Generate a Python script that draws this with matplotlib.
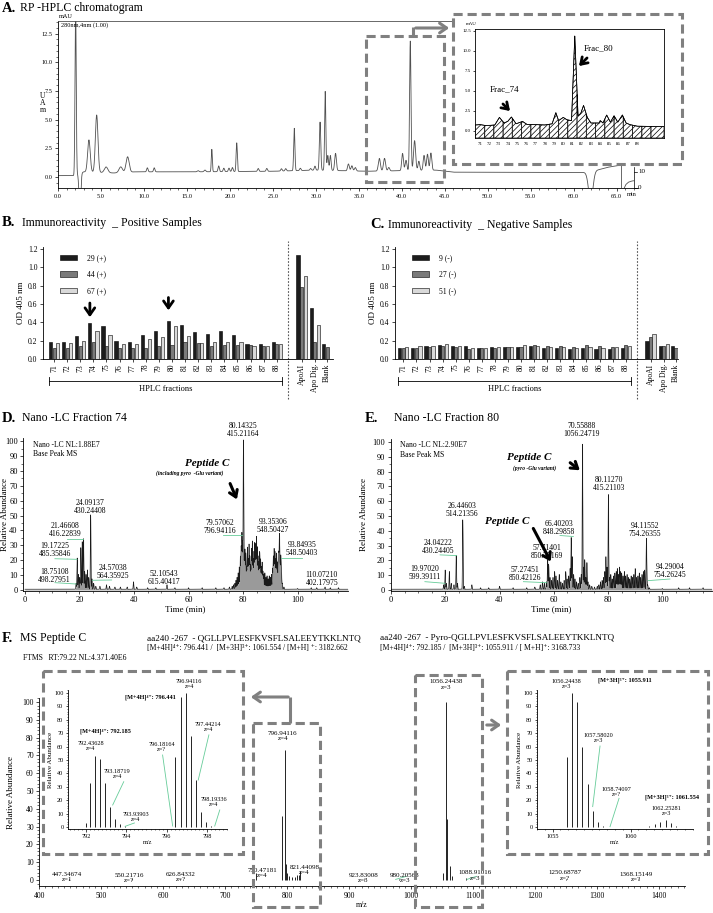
import numpy as np
import matplotlib
matplotlib.use("Agg")
import matplotlib.pyplot as plt
from matplotlib.patches import Rectangle
from matplotlib.ticker import MultipleLocator, FormatStrFormatter
import matplotlib.transforms as mtrans

plt.rcParams['font.family'] = ['Liberation Serif', 'DejaVu Serif']
plt.rcParams['hatch.linewidth'] = 0.5
plt.rcParams['axes.linewidth'] = 0.6
for a in ('xtick', 'ytick'):
    plt.rcParams[a + '.major.width'] = 0.5
    plt.rcParams[a + '.minor.width'] = 0.4
    plt.rcParams[a + '.major.size'] = 2.5
    plt.rcParams[a + '.minor.size'] = 1.2
    plt.rcParams[a + '.major.pad'] = 1.5

W, H = 713, 913
GREY = '#808080'
GREEN = '#66cc99'

# ---------------- data ----------------
# A. RP-HPLC chromatogram (min, mAU): baseline knots + peaks (centre, height, width)
hplc_base_t = [0, 1.9, 3.0, 6.5, 9.0, 16.0, 25.0, 30.0, 36.0, 44.0, 46.0, 61.5, 63.0, 64.0, 65.2]
hplc_base_y = [0.12, 0.12, 0.45, 0.35, 0.45, 0.45, 0.5, 0.6, 0.5, 0.6, 0.42, 0.4, 0.65, 0.85, 1.0]
hplc_peak_t = [2.05, 2.55, 3.6, 4.5, 5.6, 7.3, 8.1, 10.4, 11.2, 16.3,
               17.1, 17.9, 18.7, 19.3, 19.9, 20.3, 20.8,
               23.3, 24.3, 26.0, 26.5, 27.5, 28.2, 29.4, 29.9, 30.5, 31.1, 31.4, 31.7, 32.3, 33.8, 34.2, 34.6,
               37.4, 38.0, 38.5, 40.1, 40.5, 41.0, 41.5, 42.0, 42.6, 43.0, 43.4, 62.0]
hplc_peak_h = [15, -3.5, 2.8, 5.0, 0.5, 0.5, 1.35, 0.35, 0.35, 0.1,
               0.15, 1.95, 0.5, 0.3, 0.3, 0.35, 2.5,
               0.25, 0.25, 0.2, 0.2, 3.7, 0.2, 0.15, 0.35, 4.2, 6.9, 1.3, 1.3, 1.5, 0.6, 0.45, 0.3,
               1.1, 1.1, 0.3, 1.5, 0.9, 11.3, 2.6, 0.8, 1.3, 1.4, 1.5, -2.6]
hplc_peak_w = [0.07, 0.1, 0.15, 0.15, 0.2, 0.2, 0.18, 0.08, 0.08, 0.1,
               0.1, 0.06, 0.08, 0.08, 0.08, 0.08, 0.07,
               0.08, 0.08, 0.08, 0.08, 0.07, 0.08, 0.08, 0.08, 0.08, 0.07, 0.08, 0.08, 0.1, 0.1, 0.1, 0.1,
               0.12, 0.12, 0.1, 0.1, 0.1, 0.08, 0.12, 0.1, 0.1, 0.1, 0.1, 0.25]
hplc_marker_t = 65.5
hplc_grad_t = [65.9, 66.1, 66.4, 66.8, 67.0]
hplc_grad_y = [-0.96, -0.65, -0.45, -0.35, -0.33]

# A inset: fractions 71-88
frac_ticks = list(range(71, 89))
frac_x = [70.5, 71.0, 71.5, 72.0, 72.6, 73.1, 73.6, 74.0, 74.4, 74.9, 75.6, 76.1, 77.0, 78.0, 78.8,
          79.2, 79.5, 80.0, 80.4, 80.9, 81.25, 81.6, 81.9, 82.2, 82.6, 83.0, 83.9, 84.0, 84.3, 84.7,
          85.1, 85.5, 85.9, 86.4, 86.8, 87.2, 88.0, 90.9]
frac_y = [0.75, 0.8, 0.7, 0.7, 0.75, 1.7, 1.0, 1.2, 1.75, 0.9, 1.2, 0.8, 0.8, 0.75, 0.9,
          2.3, 1.3, 1.7, 1.4, 1.3, 11.9, 1.9, 2.2, 3.2, 1.7, 1.0, 1.0, 1.3, 1.0, 2.0,
          1.1, 1.9, 1.1, 2.0, 1.0, 0.8, 0.6, 0.55]

# B / C. Immunoreactivity (OD 405 nm)
fractions = [str(i) for i in range(71, 89)]
controls = ['ApoAI', 'Apo Dig.', 'Blank']
pos_names = ['29 (+)', '44 (+)', '67 (+)']
pos_29 = [0.18, 0.18, 0.25, 0.39, 0.36, 0.20, 0.19, 0.26, 0.30, 0.41, 0.375, 0.295, 0.27, 0.30, 0.265, 0.165, 0.165, 0.185,
          1.13, 0.56, 0.16]
pos_44 = [0.12, 0.12, 0.14, 0.18, 0.145, 0.12, 0.12, 0.12, 0.14, 0.155, 0.18, 0.17, 0.145, 0.15, 0.155, 0.155, 0.14, 0.16,
          0.78, 0.19, 0.13]
pos_67 = [0.17, 0.17, 0.20, 0.31, 0.26, 0.16, 0.16, 0.22, 0.24, 0.36, 0.25, 0.17, 0.19, 0.185, 0.18, 0.14, 0.14, 0.16,
          0.90, 0.37, np.nan]
neg_names = ['9 (-)', '27 (-)', '51 (-)']
neg_9 = [0.12, 0.12, 0.14, 0.15, 0.145, 0.145, 0.125, 0.13, 0.13, 0.135, 0.14, 0.125, 0.125, 0.11, 0.12, 0.11, 0.11, 0.125,
         0.20, 0.145, 0.14]
neg_27 = [0.12, 0.12, 0.13, 0.145, 0.135, 0.11, 0.12, 0.12, 0.13, 0.13, 0.155, 0.145, 0.14, 0.135, 0.15, 0.14, 0.135, 0.15,
          0.24, 0.145, 0.125]
neg_51 = [0.13, 0.14, 0.14, 0.165, 0.145, 0.125, 0.12, 0.13, 0.135, 0.15, 0.145, 0.13, 0.13, 0.125, 0.13, 0.125, 0.135, 0.14,
          0.275, 0.16, np.nan]
ctrl_pos = [18.9, 19.9, 20.85]

# D. Nano-LC fraction 74 (min, relative abundance)
d_pk_t = [18.75, 19.17, 19.6, 20.1, 20.5, 21.0, 21.47, 21.9, 22.4, 22.9, 23.4, 24.09, 24.57, 25.2, 26.0, 27.5,
          29.9, 31.0, 33.0, 35.0, 37.5, 39.8, 41.0, 45.0, 48.0, 52.1, 55.0, 60.0, 65.0, 70.0, 73.0, 75.0, 76.0,
          76.5, 77.0, 77.4, 77.8, 78.2, 78.6, 79.0, 79.3, 79.57, 79.85, 80.14, 80.45, 80.7, 81.0, 81.3, 81.6,
          81.9, 82.2, 82.5, 82.8, 83.1, 83.4, 83.7, 84.0, 84.3, 84.6, 84.9, 85.2, 85.5, 85.8, 86.1, 86.4, 86.7,
          87.0, 87.3, 87.6, 88.0, 88.4, 88.8, 89.2, 89.6, 90.0, 90.4, 90.8, 91.1, 91.4, 91.7, 92.0, 92.3, 92.6,
          92.9, 93.1, 93.35, 93.6, 93.85, 94.1, 94.4, 95.0, 100.0, 105.0, 107.0, 110.07, 112.0, 115.0]
d_pk_h = [4, 21, 10, 8, 28, 32, 34, 12, 10, 13, 8, 50, 7, 4, 2, 2,
          3, 2, 1.5, 1.5, 1.5, 5, 1.5, 1, 1, 3, 1, 1, 1, 1, 1, 1.5, 2,
          3, 4, 6, 8, 11, 15, 22, 28, 37, 30, 100, 18, 26, 24, 15, 28,
          20, 30, 22, 16, 27, 32, 20, 25, 31, 30, 35, 28, 22, 18, 25, 20, 15,
          18, 12, 10, 11, 8, 9, 7, 9, 8, 10, 14, 22, 27, 25, 20, 24, 18,
          16, 22, 36, 15, 22, 10, 4, 1.5, 0.5, 1, 1, 1.5, 1, 1]
d_lab_txt = ['80.14325\n415.21164', '79.57062\n796.94116', '93.35306\n548.50427', '93.84935\n548.50403',
             '110.07210\n402.17975', '52.10543\n615.40417', '24.57038\n564.35925', '18.75108\n498.27951',
             '19.17225\n485.35846', '21.46608\n416.22839', '24.09137\n430.24408']
d_lab_x = [80.0, 71.5, 90.9, 101.6, 108.9, 51.1, 32.4, 10.8, 11.0, 14.7, 23.8]
d_lab_y = [107.4, 42.3, 43.0, 27.5, 7.4, 7.8, 11.9, 9.6, 26.8, 40.3, 55.5]
d_leaders = [(72.5, 37, 79.6, 37), (94.0, 21.7, 101.5, 21.7), (24.7, 6.5, 31.8, 6.7),
             (11.0, 4.9, 18.8, 4.0), (11.0, 21.0, 19.1, 20.6), (15.3, 34.0, 21.4, 34.0)]

# E. Nano-LC fraction 80
e_pk_t = [19.4, 19.97, 20.4, 21.5, 22.2, 23.2, 24.04, 24.5, 26.45, 27.0, 29.8, 33.0, 36.0, 40.0, 45.0, 50.0,
          53.0, 55.0, 55.8, 56.5, 57.27, 57.71, 58.1, 58.6, 59.2, 59.7, 60.3, 60.8, 61.4, 62.0, 62.6, 63.2,
          63.8, 64.4, 64.9, 65.5, 66.0, 66.4, 66.8, 67.3, 67.8, 68.4, 69.0, 69.6, 70.1, 70.56, 71.0, 71.4,
          71.8, 72.2, 72.6, 73.2, 74.0, 75.0, 76.0, 76.6, 77.2, 77.8, 78.3, 78.8, 79.2, 79.6, 80.11, 80.5,
          81.0, 81.5, 82.0, 82.5, 83.0, 83.4, 83.8, 84.2, 84.6, 85.0, 85.5, 86.0, 86.5, 87.0, 87.5, 88.0,
          88.5, 89.0, 89.5, 90.0, 90.5, 91.0, 91.5, 92.0, 92.5, 93.0, 93.5, 94.11, 94.29, 94.6, 95.2,
          100.0, 106.0, 110.0, 115.0]
e_pk_h = [3, 13, 4, 12, 4, 3, 23, 4, 47, 2, 3, 1, 1, 2, 1, 1,
          1.5, 3, 5, 4, 5, 20, 17, 8, 6, 8, 12, 9, 6, 10, 5, 4,
          6, 12, 7, 9, 14, 35, 22, 10, 7, 5, 4, 8, 10, 98, 15, 20,
          8, 18, 5, 3, 2, 1.5, 2, 3, 5, 6, 8, 12, 22, 15, 64, 8,
          10, 7, 9, 11, 12, 14, 10, 15, 12, 11, 9, 12, 9, 10, 8, 7,
          9, 8, 10, 14, 8, 9, 11, 8, 10, 12, 13, 33, 7, 3, 1,
          0.5, 1, 1, 1]
e_lab_txt = ['70.55888\n1056.24719', '80.11270\n415.21103', '94.11552\n754.26355', '94.29004\n754.26245',
             '26.44603\n514.21356', '24.04222\n430.24405', '19.97020\n599.39111', '66.40203\n848.29858',
             '57.71401\n850.75169', '57.27451\n850.42126']
e_lab_x = [70.3, 80.4, 93.6, 102.8, 26.1, 17.4, 12.5, 61.9, 57.4, 49.4]
e_lab_y = [107.9, 71.8, 40.6, 12.6, 54.2, 29.3, 11.3, 42.0, 25.7, 10.6]
e_leaders = [(94.8, 6.3, 102.8, 7.4), (18.1, 23.7, 24.2, 23.2), (12.5, 5.6, 19.9, 4.5),
             (62.3, 36.8, 67.2, 36.1), (48.8, 5.6, 57.4, 4.9)]

# F. MS of peptide C (m/z, relative abundance)
f_mz = [447.35, 550.22, 626.84, 750.47, 792.44, 796.94, 797.6, 799.5, 803.0, 808.0, 812.0, 816.0, 819.0,
        821.44, 923.83, 980.21, 1051.0, 1056.24, 1057.5, 1062.3, 1066.0, 1088.91, 1250.69, 1368.15]
f_int = [0.8, 0.5, 0.6, 4, 36, 73, 9, 4, 2, 1.5, 1.5, 2.5, 3,
         5, 0.7, 0.7, 4, 100, 34, 8, 2, 1, 0.5, 0.5]
f_lab_txt = ['447.34674\nz=1', '550.21716\nz=?', '626.84332\nz=?', '750.47181\nz=4', '821.44098\nz=4',
             '796.94116\nz=4', '923.83008\nz=3', '980.20568\nz=3', '1088.91016\nz=3', '1250.68787\nz=?',
             '1368.15149\nz=?', '1056.24438\nz=3']
f_lab_x = [445, 545, 628, 760, 828, 793, 923, 990, 1103, 1248, 1363, 1057]
f_lab_y = [1.7, 1.2, 1.7, 4.0, 5.5, 78, 1.2, 1.2, 2.5, 2.5, 1.5, 107]

# F insets: isotope clusters
iso4_mz = [792.0, 792.19, 792.44, 792.69, 792.94, 793.19, 793.44, 793.69, 793.94,
           796.44, 796.69, 796.94, 797.19, 797.44, 797.69, 797.94, 798.19]
iso4_int = [3, 33, 53, 51, 33, 15, 6, 2, 0.7,
            52, 97, 100, 68, 35, 11, 4, 1]
iso3_mz = [1055.91, 1056.24, 1056.58, 1056.91, 1057.24, 1057.58, 1057.91, 1058.24,
           1061.2, 1061.55, 1061.9, 1062.25, 1062.58, 1062.9]
iso3_int = [52, 100, 93, 60, 32, 12, 4, 1,
            1, 2, 4, 5, 3, 1]

# ---------------- figure ----------------
fig = plt.figure(figsize=(W / 100, H / 100), dpi=100)


def px_axes(l, t, r, b, **kw):
    return fig.add_axes([l / W, 1 - b / H, (r - l) / W, (b - t) / H], **kw)


ov = fig.add_axes([0, 0, 1, 1], zorder=20)
ov.set_xlim(0, W)
ov.set_ylim(H, 0)
ov.axis('off')
ov.patch.set_visible(False)


def dash_box(x, y, w, h):
    ov.add_patch(Rectangle((x, y), w, h, fill=False, edgecolor=GREY, lw=2.2,
                           linestyle=(0, (3, 1.6))))


def title(letter, text, x, y, gap=18):
    ov.text(x, y, letter, fontsize=10.5, fontweight='bold', va='center')
    ov.text(x + gap, y, text, fontsize=8.5, va='center')


def big_arrow(tail, tip, lw=2.2):
    ov.annotate('', xy=tip, xytext=tail,
                arrowprops=dict(arrowstyle='->,head_length=0.45,head_width=0.3', lw=lw, color='black'))


# ---------- A ----------
title('A.', 'RP -HPLC chromatogram', 2, 8)
axA = px_axes(58, 21, 638, 188)
t = np.linspace(0, 65.2, 6000)
y = np.interp(t, hplc_base_t, hplc_base_y)
for c, h, w in zip(hplc_peak_t, hplc_peak_h, hplc_peak_w):
    y = y + h * np.exp(-0.5 * ((t - c) / w) ** 2)
axA.plot(t, y, color='#505050', lw=0.6)
axA.vlines(hplc_marker_t, -0.96, 1.25, color='#505050', lw=0.6)
axA.plot(hplc_grad_t, hplc_grad_y, color='#505050', lw=0.6, clip_on=False)
axA.set_xlim(0, 67.5)
axA.set_ylim(-0.96, 13.6)
axA.spines['right'].set_visible(False)
axA.spines['top'].set_color('#505050')
axA.xaxis.set_major_locator(MultipleLocator(5))
axA.xaxis.set_minor_locator(MultipleLocator(1))
axA.yaxis.set_major_locator(MultipleLocator(2.5))
axA.yaxis.set_minor_locator(MultipleLocator(0.5))
axA.xaxis.set_major_formatter(FormatStrFormatter('%.1f'))
axA.yaxis.set_major_formatter(FormatStrFormatter('%.1f'))
axA.tick_params(labelsize=4.5)
axA.plot([67, 67], [-0.96, 0.9], color='black', lw=0.5, clip_on=False)
for v, s in [(0.46, '10'), (-0.93, '0')]:
    axA.plot([67, 67.4], [v, v], color='black', lw=0.5, clip_on=False)
    axA.text(67.5, v, s, fontsize=5, va='center', clip_on=False)
ov.text(632, 195, 'min', fontsize=4.5, ha='center', va='center')
ov.text(59, 17, 'mAU', fontsize=4.5, va='center')
ov.text(61, 25, '280nm,4nm (1.00)', fontsize=4.5, va='center')
ov.text(43, 103, 'U\nA\nm', fontsize=5.5, ha='center', va='center', linespacing=0.75)

# inset of fractions
bgA = px_axes(453, 14, 682, 164, zorder=5)
bgA.axis('off')
bgA.add_patch(Rectangle((0, 0), 1, 1, transform=bgA.transAxes, color='white'))
axI = px_axes(475, 29, 664, 138, zorder=6)
xs = np.linspace(70.46, 90.9, 1200)
ys = np.interp(xs, frac_x, frac_y)
edges = [70.46] + [k + 0.5 for k in range(71, 90)] + [90.9]
for a, b in zip(edges[:-1], edges[1:]):
    m = (xs >= a) & (xs <= b)
    axI.fill_between(xs[m], -0.875, ys[m], facecolor='white', edgecolor='black',
                     hatch='//////', lw=0.5)
axI.plot(xs, ys, color='black', lw=0.5)
axI.set_xlim(70.46, 90.9)
axI.set_ylim(-0.875, 12.75)
axI.set_xticks(frac_ticks)
axI.set_xticklabels([str(v) for v in frac_ticks])
axI.yaxis.set_major_locator(MultipleLocator(2.5))
axI.yaxis.set_major_formatter(FormatStrFormatter('%.1f'))
axI.tick_params(axis='x', length=0, labelsize=3.5, pad=3)
axI.tick_params(axis='y', labelsize=3.5, length=1.5)
ov.text(466, 24, 'mAU', fontsize=3.5, va='center', zorder=30)
dash_box(453, 14, 229, 150)
dash_box(366, 36, 78, 146)
ov.annotate('', xy=(452, 28), xytext=(413, 28),
            arrowprops=dict(arrowstyle='->,head_length=0.5,head_width=0.35', lw=2.2, color=GREY))
ov.plot([413, 413], [36, 27], color=GREY, lw=2.2, solid_capstyle='butt')
ov.text(505, 89, 'Frac_74', fontsize=6.5, ha='center', va='center')
ov.text(599, 48, 'Frac_80', fontsize=6.5, ha='center', va='center')
big_arrow((501, 102), (512, 113), lw=2)
big_arrow((589, 56), (577, 68), lw=2)

# ---------- B / C ----------
bar_cols = ['#1c1c1c', '#7a7a7a', '#d9d9d9']


def od_panel(rect, xlim, series, names):
    ax = px_axes(*rect)
    xpos = np.r_[np.arange(len(fractions)), ctrl_pos]
    for k, vals in enumerate(series):
        ax.bar(xpos + (k - 1) * 0.27, vals, width=0.24, color=bar_cols[k],
               edgecolor='black', linewidth=0.4, label=names[k])
    ax.set_xlim(*xlim)
    ax.set_ylim(0, 1.22)
    ax.yaxis.set_major_locator(MultipleLocator(0.2))
    ax.yaxis.set_major_formatter(FormatStrFormatter('%.1f'))
    ax.set_xticks(xpos)
    ax.set_xticklabels(fractions + controls, rotation=90)
    ax.tick_params(labelsize=5.5)
    ax.tick_params(axis='x', length=2)
    for s in ('top', 'right'):
        ax.spines[s].set_visible(False)
    ax.set_ylabel('OD 405 nm', fontsize=6.5, labelpad=2)
    ax.axvline(17.9, ymin=-0.36, ymax=1.05, color='#555555', lw=0.8,
               linestyle=(0, (1.5, 1.5)), clip_on=False)
    tr = mtrans.blended_transform_factory(ax.transData, ax.transAxes)
    ax.plot([-0.4, 17.4], [-0.2, -0.2], color='black', lw=0.6, transform=tr, clip_on=False)
    for xe in (-0.4, 17.4):
        ax.plot([xe, xe], [-0.235, -0.165], color='black', lw=0.6, transform=tr, clip_on=False)
    ax.text(8.5, -0.27, 'HPLC fractions', fontsize=6, ha='center', va='center', transform=tr)
    ax.legend(loc='upper left', bbox_to_anchor=(0.035, 1.0), frameon=False, fontsize=5.5,
              handlelength=2.2, handleheight=0.7, handletextpad=1.3, labelspacing=1.15)
    return ax


title('B.', 'Immunoreactivity  _ Positive Samples', 2, 223, gap=20)
axB = od_panel((43, 247, 333, 359), (-0.85, 21.3), [pos_29, pos_44, pos_67], pos_names)
for xi, tail, tip in [(3, 0.64, 0.425), (9, 0.70, 0.50)]:
    axB.annotate('', xy=(xi - 0.27, tip), xytext=(xi - 0.27, tail),
                 arrowprops=dict(arrowstyle='->,head_length=0.5,head_width=0.35', lw=2, color='black'))

title('C.', 'Immunoreactivity  _ Negative Samples', 370, 225, gap=18)
axC = od_panel((395, 247, 678, 359), (-0.64, 21.0), [neg_9, neg_27, neg_51], neg_names)


# ---------- D / E ----------
def lc_panel(rect, xlim, pk_t, pk_h, lab_txt, lab_x, lab_y, leaders, nl, ylab_x):
    ax = px_axes(*rect)
    t = np.linspace(0, xlim[1], 8000)
    y = np.full_like(t, 0.5)
    for c, h in zip(pk_t, pk_h):
        y = y + h * np.exp(-0.5 * ((t - c) / 0.1) ** 2)
    ax.fill_between(t, 0, y, color='#9a9a9a', lw=0)
    ax.plot(t, y, color='#1a1a1a', lw=0.45)
    ax.set_xlim(*xlim)
    ax.set_ylim(-0.5, 102)
    ax.xaxis.set_major_locator(MultipleLocator(20))
    ax.xaxis.set_minor_locator(MultipleLocator(5))
    ax.yaxis.set_major_locator(MultipleLocator(10))
    ax.yaxis.set_minor_locator(MultipleLocator(5))
    ax.tick_params(labelsize=6)
    for s in ('top', 'right'):
        ax.spines[s].set_visible(False)
    ax.set_xlabel('Time (min)', fontsize=6.5, labelpad=1)
    ax.set_ylabel('Relative Abundance', fontsize=6.5)
    ax.yaxis.set_label_coords(ylab_x, 0.5)
    for s, x, yy in zip(lab_txt, lab_x, lab_y):
        ax.text(x, yy, s, fontsize=5.5, ha='center', va='center', linespacing=1.0, clip_on=False)
    for x1, y1, x2, y2 in leaders:
        ax.plot([x1, x2], [y1, y2], color=GREEN, lw=0.6)
    ax.text(0.03, 0.985, 'Nano -LC ' + nl + '\nBase Peak MS', transform=ax.transAxes,
            fontsize=5.5, va='top', linespacing=1.3)
    return ax


title('D.', 'Nano -LC Fraction 74', 2, 418, gap=20)
axD = lc_panel((23.3, 438.3, 348, 590.7), (-0.6, 118.5), d_pk_t, d_pk_h,
               d_lab_txt, d_lab_x, d_lab_y, d_leaders, 'NL:1.88E7', -0.043)
ov.text(207, 463, 'Peptide C', fontsize=8, fontweight='bold', style='italic', ha='center', va='center')
ov.text(190, 473, '(including pyro  -Glu variant)', fontsize=4, fontweight='bold', style='italic',
        ha='center', va='center')
big_arrow((229, 481), (238, 502))

title('E.', 'Nano -LC Fraction 80', 365, 418, gap=29)
axE = lc_panel((390.7, 439, 712, 590.7), (-0.1, 118.3), e_pk_t, e_pk_h,
               e_lab_txt, e_lab_x, e_lab_y, e_leaders, 'NL:2.90E7', -0.07)
ov.text(529, 457, 'Peptide C', fontsize=8, fontweight='bold', style='italic', ha='center', va='center')
ov.text(535, 468, '(pyro -Glu variant)', fontsize=4, fontweight='bold', style='italic',
        ha='center', va='center')
big_arrow((568, 461), (582, 472))
ov.text(507, 521, 'Peptide C', fontsize=8, fontweight='bold', style='italic', ha='center', va='center')
big_arrow((532, 526), (552, 564))

# ---------- F ----------
title('F.', 'MS Peptide C', 2, 638)
ov.text(23, 658, 'FTMS   RT:79.22 NL:4.371.40E6', fontsize=5.5, va='center')
ov.text(147, 638, 'aa240 -267  - QGLLPVLESFKVSFLSALEEYTKKLNTQ', fontsize=6.6, va='center')
ov.text(147, 648, '[M+4H]⁴⁺: 796.441 /  [M+3H]³⁺: 1061.554 / [M+H] ⁺: 3182.662', fontsize=5.5, va='center')
ov.text(380, 638, 'aa240 -267  - Pyro-QGLLPVLESFKVSFLSALEEYTKKLNTQ', fontsize=6.6, va='center')
ov.text(380, 648, '[M+4H]⁴⁺: 792.185 /  [M+3H]³⁺: 1055.911 / [ M+H]⁺: 3168.733', fontsize=5.5, va='center')

axF = px_axes(39.3, 698.4, 685, 886)
axF.vlines(f_mz, 0, f_int, color='black', lw=0.6)
axF.set_xlim(400, 1442)
axF.set_ylim(-3.4, 102)
axF.xaxis.set_major_locator(MultipleLocator(100))
axF.xaxis.set_minor_locator(MultipleLocator(10))
axF.yaxis.set_major_locator(MultipleLocator(10))
axF.yaxis.set_minor_locator(MultipleLocator(2))
axF.tick_params(labelsize=5.5)
for s in ('top', 'right'):
    axF.spines[s].set_visible(False)
axF.set_xlabel('m/z', fontsize=5.5, labelpad=1)
axF.set_ylabel('Relative Abundance', fontsize=6.5)
axF.yaxis.set_label_coords(-0.038, 0.5)
for s, x, yy in zip(f_lab_txt, f_lab_x, f_lab_y):
    axF.text(x, yy, s, fontsize=5, ha='center', va='bottom' if yy > 50 else 'center',
             linespacing=1.1, clip_on=False)
axF.plot([975, 992], [0.3, 2.0], color=GREEN, lw=0.6)
axF.plot([1090, 1105], [0.3, 2.0], color=GREEN, lw=0.6)


def iso_inset(box, rect, xlim, mz, inten, major, minor):
    bg = px_axes(*box, zorder=5)
    bg.axis('off')
    bg.add_patch(Rectangle((0, 0), 1, 1, transform=bg.transAxes, color='white'))
    ax = px_axes(*rect, zorder=6)
    ax.vlines(mz, 0, inten, color='black', lw=0.6)
    ax.set_xlim(*xlim)
    ax.set_ylim(-1.5, 102.2)
    ax.xaxis.set_major_locator(MultipleLocator(major))
    ax.xaxis.set_minor_locator(MultipleLocator(minor))
    ax.yaxis.set_major_locator(MultipleLocator(10))
    ax.yaxis.set_minor_locator(MultipleLocator(2))
    ax.tick_params(labelsize=4.5)
    ax.tick_params(which='major', length=1.8)
    ax.tick_params(which='minor', length=0.9)
    for s in ('top', 'right'):
        ax.spines[s].set_visible(False)
    ax.set_xlabel('m/z', fontsize=4.5, labelpad=1)
    ax.set_ylabel('Relative Abundance', fontsize=5, labelpad=1)
    return ax


axL = iso_inset((43, 671, 243, 854), (68, 690, 227, 829), (791.1, 799.0), iso4_mz, iso4_int, 2, 0.2)
for s, x, yy in [('796.94116\nz=4', 797.12, 106.7), ('797.44214\nz=4', 798.07, 74.6),
                 ('796.18164\nz=?', 795.76, 59.7), ('792.43628\nz=4', 792.24, 60.4),
                 ('793.18719\nz=4', 793.54, 39.6), ('793.93903\nz=4', 794.46, 7.7),
                 ('798.19336\nz=4', 798.34, 18.4)]:
    axL.text(x, yy, s, fontsize=4.5, ha='center', va='center', linespacing=1.05, clip_on=False)
axL.text(795.2, 97, '[M+4H]⁴⁺: 796.441', fontsize=4.5, fontweight='bold', ha='center', va='center')
axL.text(792.96, 71.6, '[M+4H]⁴⁺: 792.185', fontsize=4.5, fontweight='bold', ha='center', va='center')
for x1, y1, x2, y2 in [(795.8, 53.7, 796.3, 0.7), (798.1, 68.7, 797.57, 35), (793.87, 33.8, 793.32, 16.4),
                       (793.94, 0.5, 794.4, 3), (798.64, 12.7, 798.39, 0.7)]:
    axL.plot([x1, x2], [y1, y2], color=GREEN, lw=0.6)

axR = iso_inset((507, 671, 708, 854), (537, 690, 693, 829), (1054.0, 1064.0), iso3_mz, iso3_int, 5, 0.5)
for s, x, yy in [('1056.24438\nz=3', 1055.9, 106.7), ('1057.58020\nz=3', 1057.93, 66.6),
                 ('1058.74097\nz=?', 1059.11, 25.9), ('1062.25281\nz=3', 1062.31, 12.2)]:
    axR.text(x, yy, s, fontsize=4.5, ha='center', va='center', linespacing=1.05, clip_on=False)
axR.text(1059.6, 109.7, '[M+3H]³⁺: 1055.911', fontsize=4.5, fontweight='bold', ha='center', va='center',
         clip_on=False)
axR.text(1062.63, 21.9, '[M+3H]³⁺: 1061.554', fontsize=4.5, fontweight='bold', ha='center', va='center')
for x1, y1, x2, y2 in [(1058.04, 60.4, 1057.57, 15.2), (1059.26, 21.4, 1058.68, 0.2)]:
    axR.plot([x1, x2], [y1, y2], color=GREEN, lw=0.6)

dash_box(43, 671, 200, 183)
dash_box(507, 671, 201, 183)
dash_box(253, 723, 67, 184)
dash_box(415, 675, 67, 232)
ov.plot([290, 290], [723, 697], color=GREY, lw=2.2, solid_capstyle='butt')
ov.annotate('', xy=(248, 697), xytext=(291, 697),
            arrowprops=dict(arrowstyle='->,head_length=0.5,head_width=0.35', lw=2.2, color=GREY))
ov.annotate('', xy=(504, 725), xytext=(484, 725),
            arrowprops=dict(arrowstyle='->,head_length=0.5,head_width=0.35', lw=2.2, color=GREY))

fig.savefig('out.png', dpi=100)
